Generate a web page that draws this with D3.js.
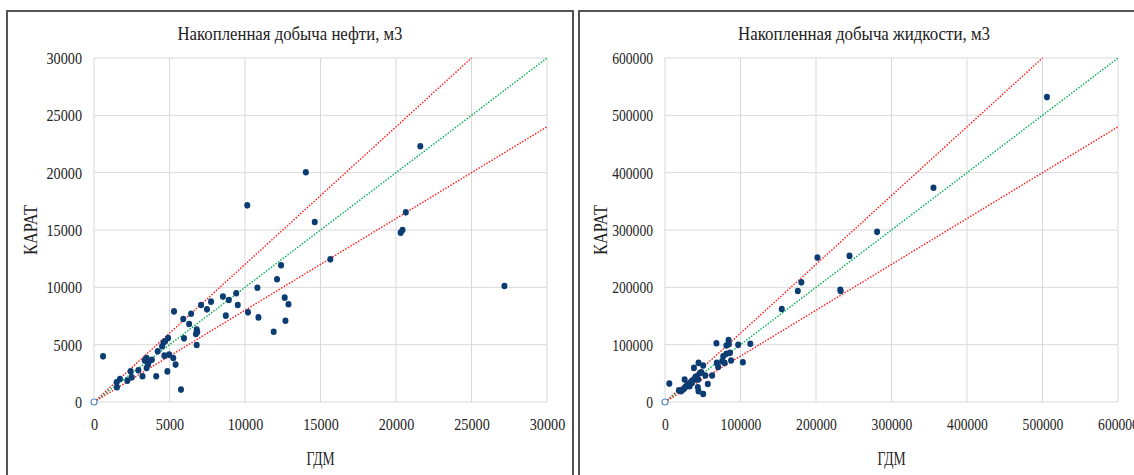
<!DOCTYPE html>
<html>
<head>
<meta charset="utf-8">
<script src="https://cdn.jsdelivr.net/npm/d3@7"></script>
<style>
  body { margin: 0; background: #fff; }
  text { font-family: "Liberation Serif", "Times New Roman", serif; fill: #222; }
</style>
</head>
<body>
<script>
var W = 1134, H = 475;

// накопленная добыча нефти, м3 (ГДМ vs КАРАТ)
var oilGdm   = [0, 600, 1500, 1520, 1720, 2210, 2430, 2500, 2940, 3210, 3360, 3480, 3480, 3580, 3650, 3830, 4120, 4220, 4510, 4610, 4710, 4660, 4860, 4910, 4980, 5250, 5300, 5400, 5760, 5910, 5960, 6300, 6430, 6750, 6800, 6800, 6840, 7090, 7480, 7750, 8540, 8730, 8930, 9420, 9520, 10150, 10200, 10820, 10890, 11900, 12120, 12390, 12630, 12680, 12880, 14030, 14620, 15650, 20310, 20430, 20650, 21610, 27180];
var oilKarat = [0, 3980, 1720, 1280, 2000, 1860, 2670, 2150, 2760, 2240, 3630, 3840, 2970, 3260, 3550, 3690, 2240, 4420, 4860, 5200, 5290, 4040, 2670, 5580, 4130, 3840, 7900, 3260, 1080, 7240, 5550, 6800, 7700, 5930, 6310, 4970, 6100, 8460, 8080, 8750, 9190, 7530, 8900, 9480, 8460, 17150, 7820, 9970, 7380, 6130, 10700, 11920, 9100, 7090, 8520, 20030, 15700, 12440, 14770, 15000, 16540, 22300, 10120];

// накопленная добыча жидкости, м3
var liqGdm   = [0, 5700, 18400, 21300, 24100, 26000, 26000, 27900, 30700, 32600, 34000, 35500, 36400, 38300, 39200, 40200, 42100, 43500, 44000, 44400, 44400, 46300, 48200, 50600, 50600, 53400, 56700, 62400, 68100, 68600, 70400, 75700, 77100, 79000, 81300, 81300, 84200, 84600, 86100, 87500, 96900, 103100, 113000, 154600, 175900, 180600, 201900, 232200, 232600, 244400, 280900, 355600, 505900];
var liqKarat = [0, 32100, 20400, 18700, 21600, 39100, 24500, 27400, 30300, 27400, 34400, 33200, 37300, 59500, 39100, 43700, 44900, 25700, 39100, 68200, 18700, 50700, 51900, 14000, 63600, 46100, 31500, 46100, 102600, 68200, 61200, 71100, 79900, 68200, 84000, 98500, 107900, 100900, 85700, 72300, 99700, 69400, 101500, 162100, 193600, 208700, 251900, 195900, 193600, 254800, 296800, 373800, 531800];

var oilTicks = [0, 5000, 10000, 15000, 20000, 25000, 30000];
var liqTicks = [0, 100000, 200000, 300000, 400000, 500000, 600000];

// отклонение ±20% и линия y = x
var refSlopes = [1.2, 1, 0.8];
var refColors = ["#ff1a1a", "#00b050", "#ff1a1a"];

var svg = d3.select("body").append("svg")
  .attr("width", W)
  .attr("height", H);

function drawPanel(p) {
  var g = svg.append("g");

  // рамка панели
  g.append("rect")
    .attr("x", p.left).attr("y", 11)
    .attr("width", p.width).attr("height", H)
    .attr("fill", "#fff")
    .attr("stroke", "#555").attr("stroke-width", 2);

  var x = d3.scaleLinear().domain([0, p.max]).range([p.x0, p.x1]);
  var y = d3.scaleLinear().domain([0, p.max]).range([402, 58]);

  // сетка
  g.selectAll(".gx").data(p.ticks).enter().append("line")
    .attr("x1", function(d) { return x(d); })
    .attr("x2", function(d) { return x(d); })
    .attr("y1", y(0)).attr("y2", y(p.max))
    .attr("stroke", "#d9d9d9").attr("stroke-width", 1);
  g.selectAll(".gy").data(p.ticks).enter().append("line")
    .attr("y1", function(d) { return y(d); })
    .attr("y2", function(d) { return y(d); })
    .attr("x1", x(0)).attr("x2", x(p.max))
    .attr("stroke", "#d9d9d9").attr("stroke-width", 1);

  // подписи осей
  var xAxis = g.append("g")
    .attr("transform", "translate(0," + y(0) + ")")
    .call(d3.axisBottom(x).tickValues(p.ticks).tickSize(0).tickPadding(16).tickFormat(d3.format("d")));
  var yAxis = g.append("g")
    .attr("transform", "translate(" + x(0) + ",0)")
    .call(d3.axisLeft(y).tickValues(p.ticks).tickSize(0).tickPadding(12).tickFormat(d3.format("d")));
  [xAxis, yAxis].forEach(function(a) {
    a.select(".domain").remove();
    a.selectAll("text")
      .attr("font-size", 17)
      .attr("fill", "#222")
      .attr("font-family", "Liberation Serif, Times New Roman, serif")
      .attr("textLength", function(d) { return String(d).length * p.digitW; })
      .attr("lengthAdjust", "spacingAndGlyphs");
  });

  // линии сравнения
  g.selectAll(".ref").data(refSlopes).enter().append("line")
    .attr("x1", x(0)).attr("y1", y(0))
    .attr("x2", function(k) { return x(Math.min(p.max, p.max / k)); })
    .attr("y2", function(k) { return y(Math.min(p.max, p.max * k)); })
    .attr("stroke", function(k, i) { return refColors[i]; })
    .attr("stroke-width", 1.4)
    .attr("stroke-dasharray", "1.5,1.5");

  // точки
  var pts = p.xs.map(function(v, i) { return [v, p.ys[i]]; });
  g.selectAll(".pt").data(pts.slice(1)).enter().append("ellipse")
    .attr("cx", function(d) { return x(d[0]); })
    .attr("cy", function(d) { return y(d[1]); })
    .attr("rx", 3).attr("ry", 3.3)
    .attr("fill", "#0b3d73");
  g.append("circle")
    .attr("cx", x(pts[0][0])).attr("cy", y(pts[0][1]))
    .attr("r", 3)
    .attr("fill", "#fff").attr("stroke", "#5b8fc7").attr("stroke-width", 1.2);

  // заголовок и названия осей
  var cx = p.left + p.width / 2;
  g.append("text")
    .attr("x", cx).attr("y", 40)
    .attr("text-anchor", "middle")
    .attr("font-size", 19)
    .attr("textLength", p.titleW).attr("lengthAdjust", "spacingAndGlyphs")
    .text(p.title);
  g.append("text")
    .attr("x", (p.x0 + p.x1) / 2).attr("y", 465)
    .attr("text-anchor", "middle")
    .attr("font-size", 18)
    .attr("textLength", 28).attr("lengthAdjust", "spacingAndGlyphs")
    .text("ГДМ");
  g.append("text")
    .attr("transform", "translate(" + p.yLabelX + ",230) rotate(-90)")
    .attr("text-anchor", "middle")
    .attr("font-size", 18)
    .attr("textLength", 50).attr("lengthAdjust", "spacingAndGlyphs")
    .text("КАРАТ");
}

drawPanel({
  left: 7, width: 566, x0: 94, x1: 547, max: 30000,
  ticks: oilTicks, xs: oilGdm, ys: oilKarat, digitW: 7.1,
  title: "Накопленная добыча нефти, м3", titleW: 225, yLabelX: 37
});
drawPanel({
  left: 579, width: 570, x0: 665, x1: 1118, max: 600000,
  ticks: liqTicks, xs: liqGdm, ys: liqKarat, digitW: 6.8,
  title: "Накопленная добыча жидкости, м3", titleW: 252, yLabelX: 607
});
</script>
</body>
</html>
